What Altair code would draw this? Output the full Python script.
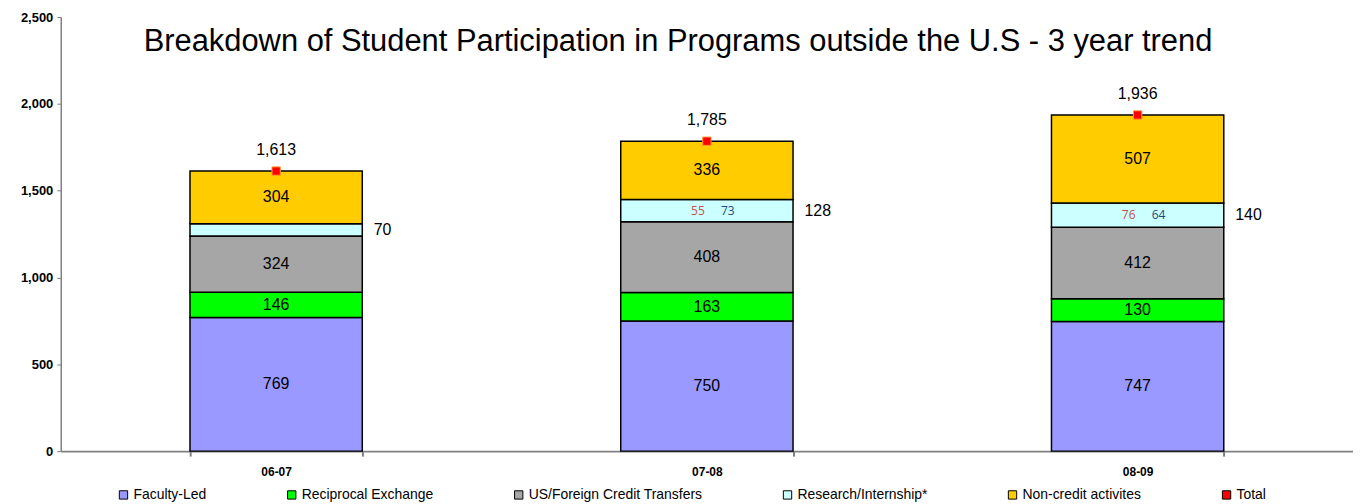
import altair as alt
import pandas as pd

title_text = "Breakdown of Student Participation in Programs outside the U.S - 3 year trend"
years = ["06-07", "07-08", "08-09"]
series = ["Faculty-Led", "Reciprocal Exchange", "US/Foreign Credit Transfers",
          "Research/Internship*", "Non-credit activites"]
faculty_led = [769, 750, 747]
reciprocal = [146, 163, 130]
credit_transfers = [324, 408, 412]
research = [70, 128, 140]
non_credit = [304, 336, 507]
totals = [1613, 1785, 1936]
research_part_a = [None, 55, 76]
research_part_b = [None, 73, 64]
colors = ["#9999FF", "#00FF00", "#A6A6A6", "#CCFFFF", "#FFCC00", "#FF0000"]

values_by_series = [faculty_led, reciprocal, credit_transfers, research, non_credit]
rows = []
for si, (s, vals) in enumerate(zip(series, values_by_series)):
    for yi, y in enumerate(years):
        rows.append({
            "year": y, "series": s, "idx": si, "value": vals[yi],
            "part_a": research_part_a[yi] if s == series[3] else None,
            "part_b": research_part_b[yi] if s == series[3] else None,
        })
df = pd.DataFrame(rows)
tot_df = pd.DataFrame({"year": years, "total": totals, "series": ["Total"] * 3})

FONT = "Liberation Sans"
x_scale = alt.Scale(paddingInner=0.6, paddingOuter=0.3)

x_enc = alt.X("year:N", title=None, sort=years, scale=x_scale,
              axis=alt.Axis(labelFontWeight="bold", labelFontSize=12, labelAngle=0,
                            labelColor="black", labelFont=FONT, tickBand="extent",
                            domainColor="#808080", domainWidth=2, tickColor="#808080",
                            tickWidth=2, tickSize=5, labelPadding=10))
y_scale = alt.Scale(domain=[0, 2500])
y_axis = alt.Axis(values=[0, 500, 1000, 1500, 2000, 2500],
                  labelExpr="format(datum.value, ',')", grid=False,
                  labelFontWeight="bold", labelFontSize=13, labelColor="black",
                  labelFont=FONT, domainColor="#808080", domainWidth=1.5,
                  tickColor="#808080", tickSize=4, labelPadding=4, title=None)

color_enc = alt.Color("series:N",
                      scale=alt.Scale(domain=series + ["Total"], range=colors),
                      legend=alt.Legend(orient="none", legendX=56, legendY=473,
                                        direction="horizontal", title=None,
                                        symbolType="square", symbolSize=70,
                                        symbolStrokeColor="black", symbolStrokeWidth=1,
                                        symbolOpacity=1, labelLimit=400,
                                        labelFontSize=14, labelFont=FONT,
                                        labelColor="black", columnPadding=78,
                                        labelOffset=3))

def yq(field):
    return alt.Y(field, scale=y_scale, axis=y_axis, title=None)

base = alt.Chart(df)

bars = base.mark_bar(stroke="black", strokeWidth=1.5, opacity=1).encode(
    x=x_enc,
    y=alt.Y("value:Q", stack="zero", scale=y_scale, axis=y_axis, title=None),
    color=color_enc,
    order=alt.Order("idx:Q"),
)

stacked = base.transform_stack(
    stack="value", groupby=["year"], as_=["v0", "v1"],
    sort=[alt.SortField("idx", order="ascending")]
).transform_calculate(mid="(datum.v0 + datum.v1) / 2")

seg_labels = stacked.transform_filter(f"datum.series != '{series[3]}'").mark_text(
    fontSize=16, font=FONT, color="black", baseline="middle"
).encode(x=x_enc, y=yq("mid:Q"), text="value:Q")

research_total = stacked.transform_filter(f"datum.series == '{series[3]}'").mark_text(
    fontSize=16, font=FONT, color="black", align="left", baseline="middle", dx=98
).encode(x=x_enc, y=yq("mid:Q"), text="value:Q")

part_a = stacked.transform_filter("isValid(datum.part_a)").mark_text(
    fontSize=12, font="Open Sans", color="#C0504D", baseline="middle", dx=-9
).encode(x=x_enc, y=yq("mid:Q"), text="part_a:Q")

part_b = stacked.transform_filter("isValid(datum.part_b)").mark_text(
    fontSize=12, font="Open Sans", color="#1F497D", baseline="middle", dx=21
).encode(x=x_enc, y=yq("mid:Q"), text="part_b:Q")

tot_base = alt.Chart(tot_df)
tot_marks = tot_base.mark_square(size=70, stroke="#FF9933", strokeWidth=1, opacity=1).encode(
    x=x_enc, y=yq("total:Q"), color=color_enc
)
tot_labels = tot_base.mark_text(fontSize=16, font=FONT, color="black", dy=-21,
                                baseline="middle").encode(
    x=x_enc, y=yq("total:Q"),
    text=alt.Text("total:Q", format=",")
)

title_layer = alt.Chart(pd.DataFrame({"t": [title_text]})).mark_text(
    fontSize=31, font=FONT, color="black", baseline="middle", dx=-29
).encode(x=alt.X("x:N", scale=x_scale, title=None, sort=years),
         y=yq("y:Q"), text="t:N").transform_calculate(x="'07-08'", y="2356")

chart = alt.layer(
    bars, seg_labels, research_total, part_a, part_b, tot_marks, tot_labels, title_layer
).properties(
    width=1298, height=436,
    padding={"left": 12, "top": 2, "right": 0, "bottom": 0},
).configure_view(stroke=None)

chart.save("out.html", embed_options={"renderer": "svg", "actions": False})
